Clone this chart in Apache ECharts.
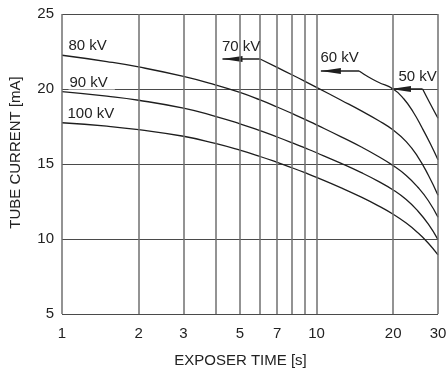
<!DOCTYPE html>
<html><head><meta charset="utf-8">
<script src="https://cdn.jsdelivr.net/npm/echarts@6/dist/echarts.min.js"></script>
<style>html,body{margin:0;padding:0;background:#fff}#c{width:447px;height:373px}</style>
</head><body><div id="c"></div>
<script>
// ---- data ----
const xGridValues = [1, 2, 3, 4, 5, 6, 7, 8, 9, 10, 20, 30];
const xTickLabels = [1, 2, 3, 5, 7, 10, 20, 30];
const yTickValues = [5, 10, 15, 20, 25];

const kv100X = [1, 1.5, 2, 3, 4, 5, 6, 7, 8, 9, 10, 12.5, 15, 17.5, 20, 22.5, 25, 27.5, 30];
const kv100Y = [17.75, 17.52, 17.29, 16.85, 16.37, 15.92, 15.5, 15.11, 14.75, 14.42, 14.11, 13.41, 12.79, 12.21, 11.65, 11.06, 10.42, 9.72, 8.94];

const kv90X = [1, 1.5, 2, 3, 4, 5, 6, 7, 8, 9, 10, 12.5, 15, 17.5, 20, 22.5, 25, 27.5, 30];
const kv90Y = [19.82, 19.52, 19.25, 18.72, 18.18, 17.68, 17.22, 16.8, 16.42, 16.07, 15.75, 15.04, 14.42, 13.84, 13.27, 12.63, 11.87, 10.99, 9.96];

const kv80X = [1, 1.5, 2, 3, 4, 5, 6, 7, 8, 9, 10, 12.5, 15, 17.5, 20, 22.5, 25, 27.5, 30];
const kv80Y = [22.25, 21.83, 21.47, 20.84, 20.28, 19.77, 19.27, 18.8, 18.37, 17.98, 17.61, 16.81, 16.13, 15.5, 14.89, 14.23, 13.45, 12.55, 11.45];

const kv70LeaderX = [4.27, 6];
const kv70LeaderY = [22.0, 22.0];
const kv70X = [6, 7, 8, 9, 10, 12.5, 15, 17.5, 20, 22.5, 25, 27.5, 30];
const kv70Y = [22.0, 21.44, 20.95, 20.51, 20.11, 19.25, 18.54, 17.9, 17.26, 16.49, 15.48, 14.25, 12.92];

const kv60LeaderX = [10.4, 14.7];
const kv60LeaderY = [21.2, 21.2];
const kv60X = [14.7, 16, 17.5, 20, 22, 24, 26, 28, 30];
const kv60Y = [21.2, 20.8, 20.45, 20.0, 19.35, 18.45, 17.4, 16.35, 15.28];

const kv50LeaderX = [19.6, 26.1];
const kv50LeaderY = [20.0, 20.0];
const kv50X = [26.1, 27.8, 30];
const kv50Y = [20.0, 19.1, 18.05];

const curveNames = ['100 kV', '90 kV', '80 kV', '70 kV', '60 kV', '50 kV'];

// ---- build ----
const FONT = "'Liberation Sans', Arial, Helvetica, sans-serif";
const INK = '#1e1e1e';
const TXT = '#222';
const pairs = (xs, ys) => xs.map((x, i) => [x, ys[i]]);

function curve(name, xs, ys) {
  return {
    type: 'line', name: name, data: pairs(xs, ys), smooth: 0.5,
    symbol: 'none', silent: true, z: 3, animation: false,
    lineStyle: { color: INK, width: 1.3 }
  };
}
function labelMark(text, x, y, off, extra) {
  return {
    type: 'line', data: [], silent: true, z: 5, animation: false,
    markPoint: {
      silent: true, animation: false, symbol: 'circle', symbolSize: 1,
      itemStyle: { color: 'rgba(0,0,0,0)' },
      label: Object.assign({ show: true, formatter: text, position: off, align: 'left', verticalAlign: 'middle',
        fontSize: 15, color: TXT, fontFamily: FONT }, extra || {}),
      data: [{ coord: [x, y] }]
    }
  };
}
function leader(xs, ys) {
  return {
    type: 'line', silent: true, z: 3, animation: false, symbol: 'none', showSymbol: true,
    lineStyle: { color: INK, width: 1.3 }, itemStyle: { color: INK },
    data: [
      { value: [xs[0], ys[0]], symbol: 'triangle', symbolSize: [6, 20], symbolRotate: 90, symbolOffset: [10, 0] },
      { value: [xs[1], ys[1]], symbol: 'none' }
    ]
  };
}

const gridSeries = {
  type: 'line', data: [], silent: true, z: 1, animation: false,
  markLine: {
    silent: true, animation: false, symbol: ['none', 'none'],
    emphasis: { disabled: true },
    lineStyle: { color: '#6f6f6f', width: 1.5, type: 'solid' },
    data: xGridValues.map(v => ({
      xAxis: v,
      label: { show: xTickLabels.indexOf(v) >= 0, formatter: String(v), position: 'start', distance: 12,
        fontSize: 15, color: TXT, fontFamily: FONT }
    }))
  }
};

const option = {
  animation: false,
  backgroundColor: '#fff',
  grid: { left: 61, right: 9, top: 14, bottom: 55 },
  xAxis: {
    type: 'log', logBase: 10, min: xGridValues[0], max: xGridValues[xGridValues.length - 1],
    axisLine: { show: false }, axisTick: { show: false }, axisLabel: { show: false }, splitLine: { show: false },
    name: 'EXPOSER TIME [s]', nameLocation: 'middle', nameGap: 39,
    nameTextStyle: { fontSize: 15, color: TXT, fontFamily: FONT, padding: [0, 19, 0, 0] }
  },
  yAxis: {
    type: 'value', min: yTickValues[0], max: yTickValues[yTickValues.length - 1], interval: 5,
    axisLine: { show: false }, axisTick: { show: false },
    axisLabel: { fontSize: 15, color: TXT, fontFamily: FONT, margin: 8 },
    splitLine: { lineStyle: { color: '#4a4a4a', width: 1 } },
    name: 'TUBE CURRENT [mA]', nameLocation: 'middle', nameGap: 39, nameRotate: 90,
    nameTextStyle: { fontSize: 15, color: TXT, fontFamily: FONT, padding: [0, 0, 0, 23] }
  },
  series: [
    gridSeries,
    curve(curveNames[0], kv100X, kv100Y),
    curve(curveNames[1], kv90X, kv90Y),
    curve(curveNames[2], kv80X, kv80Y),
    curve(curveNames[3], kv70X, kv70Y),
    curve(curveNames[4], kv60X, kv60Y),
    curve(curveNames[5], kv50X, kv50Y),
    leader(kv70LeaderX, kv70LeaderY),
    leader(kv60LeaderX, kv60LeaderY),
    leader(kv50LeaderX, kv50LeaderY),
    labelMark(curveNames[0], kv100X[0], kv100Y[0], [6, -8]),
    labelMark(curveNames[1], kv90X[0], kv90Y[0], [7, -8.7], { backgroundColor: '#fff', padding: [0, 7, 0, 1], lineHeight: 14 }),
    labelMark(curveNames[2], kv80X[0], kv80Y[0], [7, -8.5]),
    labelMark(curveNames[3], kv70LeaderX[0], kv70LeaderY[0], [0, -12]),
    labelMark(curveNames[4], kv60LeaderX[0], kv60LeaderY[0], [0, -12.5]),
    labelMark(curveNames[5], kv50LeaderX[0], kv50LeaderY[0], [8, -11.5])
  ]
};
const chart = echarts.init(document.getElementById('c'), null, { renderer: 'canvas' });
chart.setOption(option);
</script>
</body></html>
